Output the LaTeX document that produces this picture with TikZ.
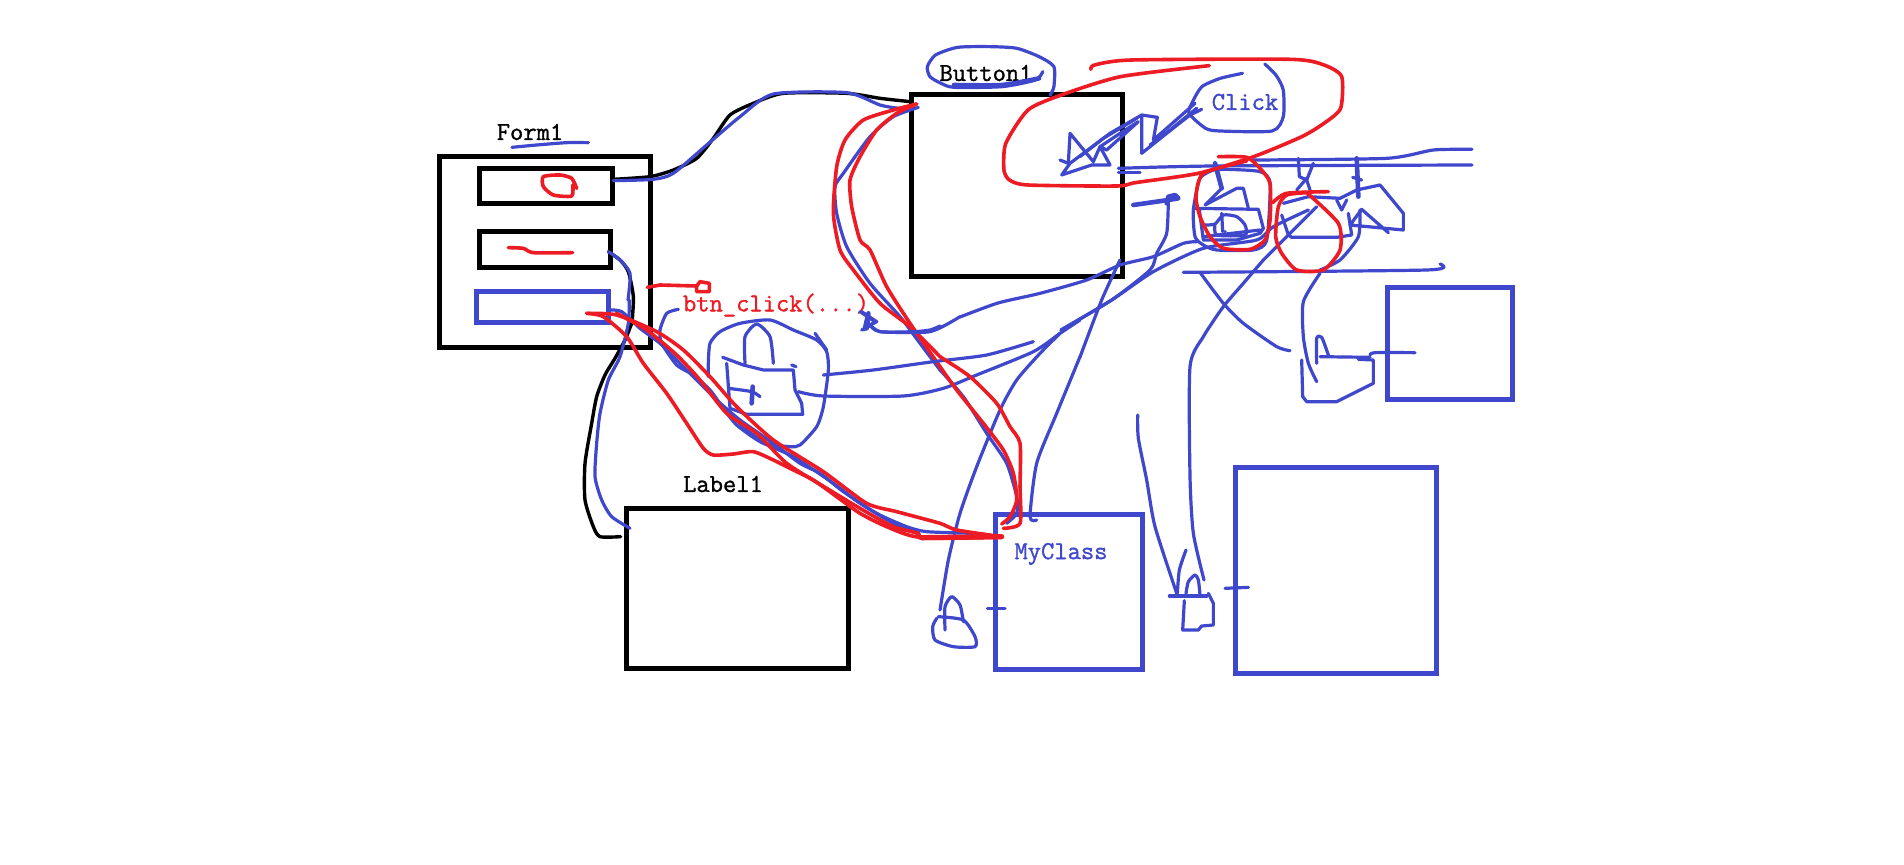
\documentclass[tikz,border=0pt]{standalone}
\usepackage{fontspec}
\newfontfamily\labfont[FakeBold=1.2]{Latin Modern Mono}
\tikzset{
  bl/.style={draw=myblue,line width=1.6pt,line cap=round,line join=round,smooth,tension=0.4},
  blp/.style={bl,sharp plot},
  blt/.style={bl,line width=2.3pt},
  rd/.style={draw=myred,line width=1.8pt,line cap=round,line join=round,smooth,tension=0.4},
  bk/.style={draw=black,line width=1.7pt,line cap=round,line join=round,smooth,tension=0.4},
  boxk/.style={draw=black,line width=2.5pt},
  boxb/.style={draw=myblue,line width=2.5pt},
  lab/.style={font=\labfont\fontsize{12.9}{14}\selectfont,inner sep=0pt},
  za/.style={shift={(420,80)},x=0.16667pt,y=-0.16667pt},
  zb/.style={shift={(880,30)},x=0.18498pt,y=-0.16667pt},
  zc/.style={shift={(560,300)},x=0.16667pt,y=-0.16667pt},
  zd/.style={shift={(1080,260)},x=0.16667pt,y=-0.16667pt},
  ze/.style={shift={(1040,100)},x=0.16667pt,y=-0.16667pt},
}
\definecolor{myblue}{HTML}{3F48CC}
\definecolor{myred}{HTML}{ED1C24}
\begin{document}
\begin{tikzpicture}[x=0.5pt,y=-0.5pt]
\useasboundingbox[fill=white] (0,0) rectangle (1904,865);
% boxes
\draw[boxk] (439,157) rectangle (650,348);
\draw[boxk] (479,169) rectangle (612,204);
\draw[boxk] (479,232) rectangle (610,268);
\draw[boxb] (476,292) rectangle (608,323);
\draw[boxk] (911,95) rectangle (1122,277);
\draw[boxk] (626,508) rectangle (848,668);
\draw[boxb] (995,514) rectangle (1142,669);
\draw[boxb] (1235,468) rectangle (1436,673);
\draw[boxb] (1387,288) rectangle (1512,400);
% labels
\node[lab] (form) at (530,132) {Form1};
\node[lab] (button) at (986,73) {Button1};
\node[lab] (label) at (723,484) {Label1};
\node[lab,text=myblue] (click) at (1245,102) {Click};
\node[lab,text=myblue] (myclass) at (1061,554) {MyClass};
\node[lab,text=myred] (btn) at (776,305) {btn\_click(...)};
% zoom A strokes
\begin{scope}[za]
\draw[bk] plot coordinates {(580,298) (690,290) (760,270) (830,235) (880,175) (930,105) (1000,70) (1090,40) (1280,40) (1380,55) (1470,65)};
\draw[bl] plot coordinates {(580,302) (700,298) (760,280) (860,195) (960,110) (1060,42) (1280,38) (1380,75) (1440,85) (1475,80)};
\draw[bl] plot coordinates {(1495,82) (1420,110) (1350,170) (1270,280) (1245,320) (1250,400) (1280,500) (1350,610) (1440,710) (1500,790) (1560,870)};
\draw[rd] plot coordinates {(1490,72) (1420,90) (1330,120) (1275,180) (1250,260) (1240,400) (1260,510) (1300,570) (1380,670) (1470,740) (1560,830)};
\draw[rd] plot coordinates {(1490,72) (1430,100) (1370,150) (1320,230) (1290,300) (1295,380) (1320,480) (1350,510) (1400,620) (1470,730) (1560,860)};
\draw[bk] plot coordinates {(636,730) (640,650) (625,575) (600,540) (565,515)};
\draw[bl] plot coordinates {(624,660) (630,580) (600,540) (565,515)};
\draw[blp] plot coordinates {(1320,695) (1365,725) (1330,750)};
\draw[blt] plot coordinates {(1345,710) (1340,745)};
\draw[bl] plot coordinates {(1345,730) (1380,755) (1480,755) (1530,750) (1560,738)};
\draw[bl] plot coordinates {(276,202) (350,195) (440,188) (505,188)};
\draw[rd] plot coordinates {(470,325) (455,295) (420,285) (370,290) (370,320) (400,345) (455,348) (458,315)};
\draw[rd] plot coordinates {(265,503) (310,505) (340,518) (458,518)};
\draw[rd,sharp plot] plot coordinates {(682,622) (720,615) (830,618) (830,635) (868,635) (868,610) (840,605) (830,618)};
\end{scope}
% zoom C strokes
\begin{scope}[zc]
\draw[bl] plot coordinates {(1140,210) (1210,290) (1280,400) (1340,490) (1370,590) (1370,640) (1340,670)};
\draw[bk] plot coordinates {(182,710) (120,710) (100,680) (75,600) (75,490) (95,370) (110,290) (135,225) (165,175) (195,120) (215,70)};
\draw[bl] plot coordinates {(210,685) (155,650) (125,600) (105,530) (110,430) (120,340) (145,240) (180,170) (205,70) (208,0)};
\draw[bl] plot coordinates {(150,30) (185,35) (240,85) (300,130) (360,190) (420,250) (470,300) (540,360) (640,430) (720,490) (780,520) (850,575) (950,640) (1040,680) (1100,695) (1240,700)};
\draw[bl] plot coordinates {(355,28) (320,40) (300,90) (305,130) (350,195) (400,225) (450,270) (490,325) (530,375) (600,425) (700,470) (820,550) (900,610) (1000,670) (1070,700)};
% bag at left
\draw[bl] plot coordinates {(445,230) (445,190) (450,130) (480,95) (540,70) (630,60) (700,90) (770,120) (800,155) (805,210) (790,320) (770,380) (720,435) (690,440) (620,430) (560,390) (510,340)};
\draw[bl] plot coordinates {(765,100) (800,150)};
\draw[blp] plot coordinates {(488,172) (550,195) (610,210) (700,210) (705,270) (725,310) (728,343) (560,343) (510,325) (500,190)};
\draw[bl] plot coordinates {(555,190) (555,110) (590,72) (630,110) (640,190)};
\draw[bl] plot coordinates {(695,195) (708,200)};
\draw[bl] plot coordinates {(505,265) (575,275) (600,290)};
\draw[blt] plot coordinates {(578,260) (575,310)};
\draw[bl] plot coordinates {(790,225) (940,210) (1120,185) (1280,165) (1420,125)};
\draw[bl] plot coordinates {(715,275) (790,288) (1030,288) (1150,265) (1250,225) (1420,155) (1500,100) (1560,60)};
\draw[blp] plot coordinates {(905,35) (950,65) (905,90)};
\draw[blt] plot coordinates {(925,40) (915,85)};
\draw[bl] plot coordinates {(930,75) (960,95) (1110,95) (1200,50)};
% down lines
\draw[bl] plot coordinates {(1140,930) (1165,780) (1200,640) (1250,500) (1320,330) (1370,240) (1440,160) (1500,100)};
\draw[bl] plot coordinates {(1430,660) (1410,650) (1430,490) (1490,340) (1560,170)};
% lock near MyClass
\draw[bl] plot coordinates {(1155,990) (1155,920) (1175,890) (1200,915) (1210,965)};
\draw[bl] plot coordinates {(1135,950) (1210,960) (1245,1010) (1245,1040) (1180,1040) (1125,1020) (1118,980) (1130,955)};
\draw[bl] plot coordinates {(1282,925) (1335,925)};
% red
\draw[rd] plot coordinates {(1140,170) (1230,230) (1310,310) (1350,380) (1380,430) (1380,560) (1380,670) (1330,685)};
\draw[rd] plot coordinates {(1140,200) (1190,270) (1270,370) (1330,450) (1360,520) (1370,600) (1350,650) (1325,672)};
\draw[rd] plot coordinates {(80,40) (130,50) (200,110) (250,190) (320,280) (380,370) (430,445) (460,465) (520,462) (580,455) (640,480) (700,510) (760,540) (830,590) (900,640) (980,680) (1080,712) (1325,710)};
\draw[rd] plot coordinates {(80,40) (170,45) (290,95) (370,150) (450,230) (530,320) (640,420) (790,515) (920,610) (1010,635) (1140,670) (1190,690) (1325,710)};
\draw[rd] plot coordinates {(170,40) (260,90) (350,165) (420,240) (500,340) (590,400) (680,490) (800,565) (900,625) (1000,680) (1075,700) (1090,715) (1325,712)};
\draw[rd,line width=2.6pt] plot coordinates {(1085,713) (1325,710)};
\end{scope}
% zoom B strokes
\begin{scope}[zb]
\draw[bl] plot coordinates {(460,195) (470,170) (470,110) (430,80) (370,55) (300,50) (210,52) (150,75) (128,110) (135,140) (165,160) (200,172) (330,170) (420,150) (440,125)};
\draw[blt] plot coordinates {(200,165) (330,165) (430,145)};
\draw[bl] plot coordinates {(980,130) (920,145) (870,170) (845,215) (835,250) (880,295) (920,303) (1060,303) (1090,260) (1090,180) (1070,135) (1040,102)};
\draw[rd] plot coordinates {(570,118) (580,105) (680,90) (1110,88) (1200,105) (1248,140) (1245,235) (1200,280) (1140,320) (1010,380) (860,430) (690,458) (640,468) (400,465) (350,450) (335,420) (340,340) (400,240) (490,195) (650,140) (890,107)};
\end{scope}
% dense region
\begin{scope}[ze]
\draw[blp] plot coordinates {(485,28) (450,45) (380,100) (305,160) (305,45) (352,52) (340,120) (465,10)};
\draw[blp] plot coordinates {(470,25) (390,90) (330,135)};
\draw[blp] plot coordinates {(305,45) (210,100) (130,160) (90,190) (65,225) (155,195) (210,195) (180,140) (160,185) (90,100) (85,190) (60,180)};
\draw[blp] plot coordinates {(295,65) (200,150) (180,140) (240,100) (295,65)};
\draw[blp] plot coordinates {(290,55) (190,115) (120,170)};
\draw[bl] plot coordinates {(235,205) (520,198) (1296,195)};
\draw[bl] plot coordinates {(640,180) (1040,175) (1180,150) (1296,148)};
\draw[bl] plot coordinates {(235,218) (300,218)};
\draw[bl] plot coordinates {(430,517) (1160,510) (1200,492)};
\draw[blt,sharp plot] plot coordinates {(280,315) (385,300) (415,295) (405,285) (385,290) (380,310)};
\draw[bl] plot coordinates {(63,690) (215,600) (330,510) (350,460) (380,400) (385,300)};
\draw[bl] plot coordinates {(63,690) (215,600) (340,515) (490,445) (650,420) (700,380) (805,330)};
\draw[bl] plot coordinates {(-240,651) (-126,609) (0,580) (140,540) (240,495) (340,470) (430,430) (470,425)};
\draw[bl] plot coordinates {(120,771) (185,600) (240,480)};
\draw[bl] plot coordinates {(670,480) (730,420) (830,320)};
% lock in first red circle
\draw[bl] plot coordinates {(520,210) (480,235) (460,330) (465,410) (490,435) (530,450) (640,450) (680,420) (690,250) (660,215) (560,208) (520,210)};
\draw[blt] plot coordinates {(525,190) (545,265)};
\draw[blp] plot coordinates {(545,265) (495,315) (590,265) (610,265) (625,325)};
\draw[blp] plot coordinates {(460,325) (655,328) (670,385) (660,400) (590,420) (490,420) (478,330)};
\draw[bl] plot coordinates {(495,375) (525,372) (550,345) (590,350) (615,375) (615,405) (530,405) (525,370)};
\draw[bl] plot coordinates {(545,340) (548,395)};
\fill[myblue] (555,395) circle (0.9pt);
\draw[bl] plot coordinates {(490,410) (660,390)};
% lock in second red circle
\draw[blp] plot coordinates {(775,175) (778,230) (800,240) (820,190)};
\draw[blp] plot coordinates {(800,235) (770,270)};
\draw[blp] plot coordinates {(800,240) (810,270)};
\draw[blt] plot coordinates {(950,175) (955,290)};
\draw[bl] plot coordinates {(938,232) (965,240)};
\draw[blp] plot coordinates {(730,310) (805,290) (900,295) (950,270) (1020,255) (1090,340) (1090,390) (930,375) (965,328) (1045,398)};
\draw[blp] plot coordinates {(725,345) (745,405) (755,412) (890,412)};
\draw[blp] plot coordinates {(890,300) (905,330) (920,300)};
\draw[blp] plot coordinates {(925,340) (935,405) (890,412)};
\draw[bl] plot coordinates {(960,330) (955,410) (900,480) (840,510)};
% red circles
\draw[rd] plot coordinates {(535,170) (620,172) (660,205) (690,250) (690,360) (675,420) (630,448) (550,445) (510,410) (480,350) (468,290) (490,220) (620,183)};
\draw[rd] plot coordinates {(698,308) (740,280) (865,275)};
\draw[rd] plot coordinates {(800,278) (895,370) (900,450) (850,510) (770,510) (725,460) (707,410) (715,320) (740,285) (800,278)};
\end{scope}
% zoom D strokes
\begin{scope}[zd]
\draw[bl] plot coordinates {(362,40) (430,130) (490,190) (590,260) (630,272)};
\draw[bl] plot coordinates {(372,960) (340,820) (330,650) (330,320) (370,230) (430,140) (490,70) (550,0)};
\draw[bl] plot coordinates {(720,40) (670,125) (670,230) (685,310) (710,365)};
\draw[bl] plot coordinates {(318,870) (298,930) (292,1000)};
\draw[bl] plot coordinates {(173,465) (175,535) (200,660) (225,800) (290,1000)};
\draw[bl] plot coordinates {(268,1008) (380,1008)};
\draw[bl] plot coordinates {(318,1000) (325,965) (345,945) (355,960) (360,1005)};
\draw[blp] plot coordinates {(313,1022) (308,1110) (355,1110) (365,1098) (400,1095) (400,1030) (385,1000)};
\draw[bl] plot coordinates {(435,985) (505,982)};
\draw[bl] plot coordinates {(710,310) (710,235) (725,232) (745,285)};
\draw[bl] plot coordinates {(720,290) (870,292)};
\draw[blp] plot coordinates {(835,298) (880,300) (880,370) (840,390) (770,425) (680,425) (668,410) (665,300)};
\draw[bl] plot coordinates {(870,285) (885,278) (1005,278)};
\end{scope}
\end{tikzpicture}
\end{document}
